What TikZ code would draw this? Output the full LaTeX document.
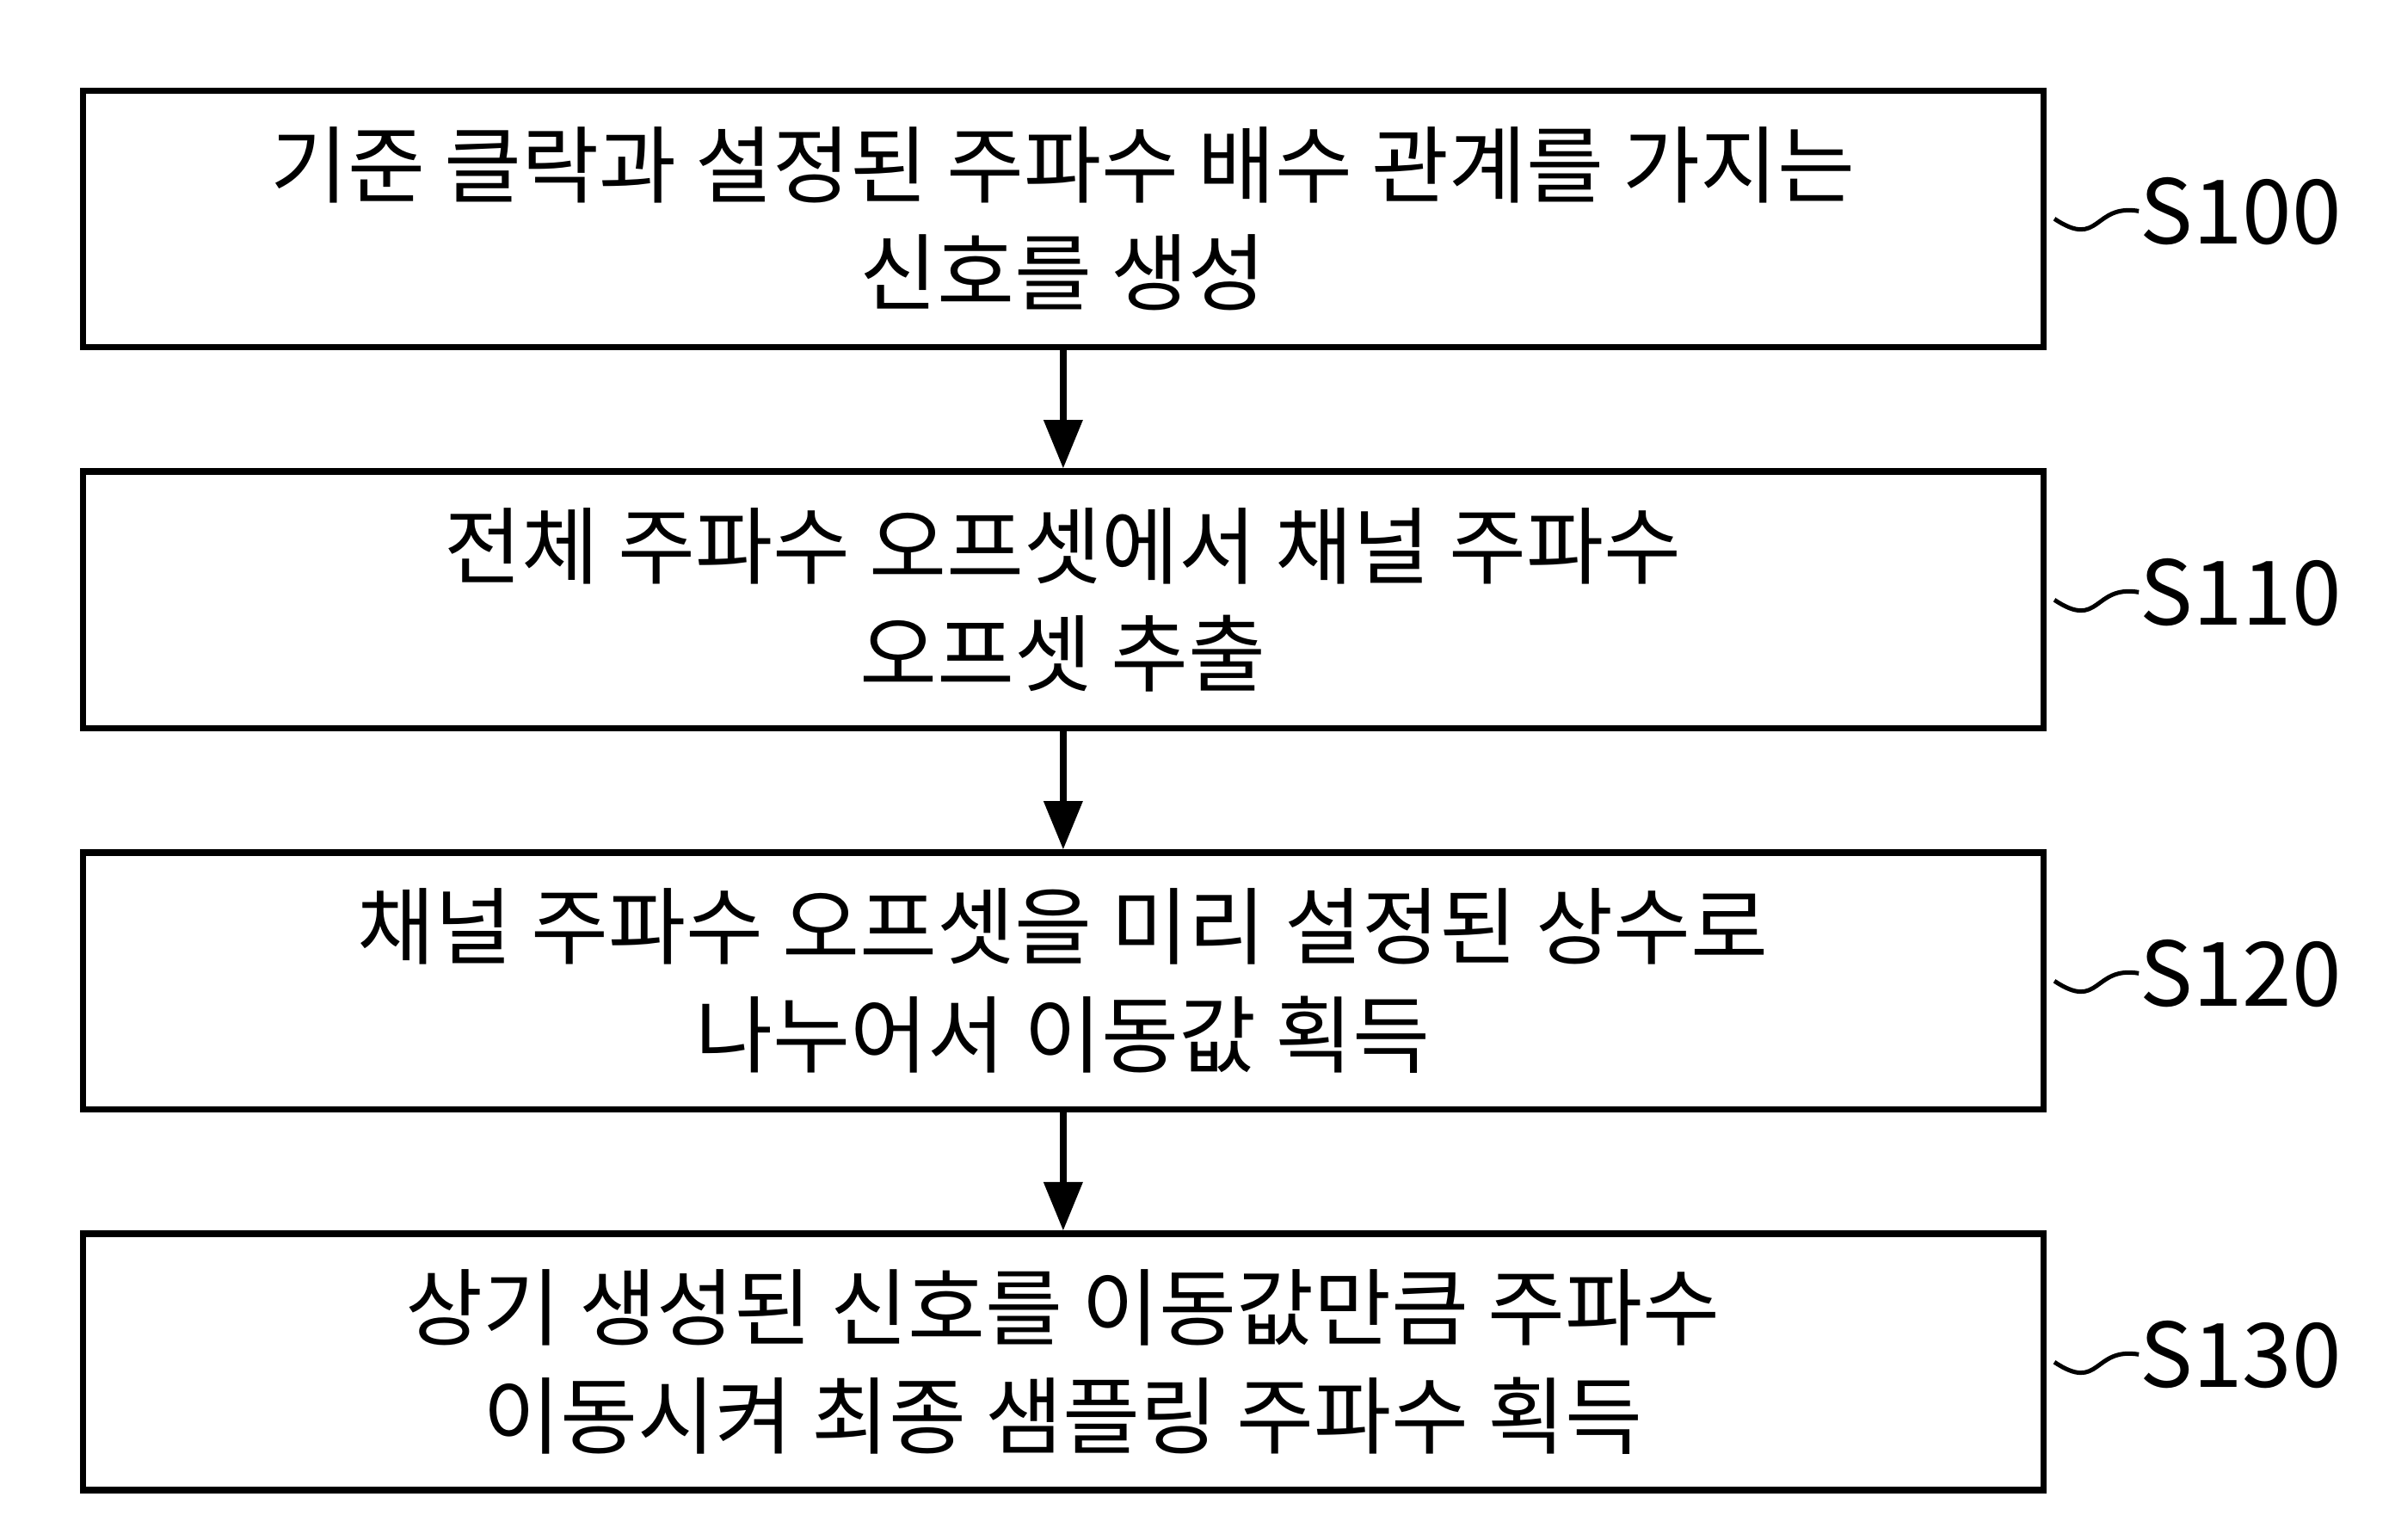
\documentclass[tikz,border=0pt]{standalone}
\usepackage{fontspec}
\setmainfont{Noto Sans CJK KR}
\usetikzlibrary{positioning,arrows.meta}
\tikzset{
  stepbox/.style={draw, line width=1.2pt, minimum width=12.77cm, minimum height=1.67cm,
    align=center, font=\fontsize{15.6}{20}\selectfont, inner sep=0pt},
  flow/.style={line width=1.2pt, -{Triangle[length=9pt,width=7pt]}},
  tag/.style={font=\fontsize{16.5}{20}\selectfont, anchor=west, inner sep=0pt},
  wave/.style={line width=0.8pt}
}
\begin{document}
\begin{tikzpicture}
\useasboundingbox (0,0) rectangle (15.6,-10.03);
% 단계 상자
\node[stepbox] (s100) at (6.925,-1.425) {기준 클락과 설정된 주파수 배수 관계를 가지는\\신호를 생성};
\node[stepbox, below=0.77cm of s100] (s110) {전체 주파수 오프셋에서 채널 주파수\\오프셋 추출};
\node[stepbox, below=0.77cm of s110] (s120) {채널 주파수 오프셋을 미리 설정된 상수로\\나누어서 이동값 획득};
\node[stepbox, below=0.77cm of s120] (s130) {상기 생성된 신호를 이동값만큼 주파수\\이동시켜 최종 샘플링 주파수 획득};
% 화살표
\draw[flow] (s100) -- (s110);
\draw[flow] (s110) -- (s120);
\draw[flow] (s120) -- (s130);
% 단계 번호
\foreach \n/\t in {s100/S100, s110/S110, s120/S120, s130/S130}{
  \coordinate (\n w) at ([xshift=0.05cm]\n.east);
  \node[tag] (\n tag) at ([xshift=0.6cm,yshift=0.05cm]\n.east) {\t};
  \draw[wave] (\n w) .. controls +(0.3,-0.2) and +(-0.3,0.05) .. (\n tag.west);
}
\end{tikzpicture}
\end{document}
